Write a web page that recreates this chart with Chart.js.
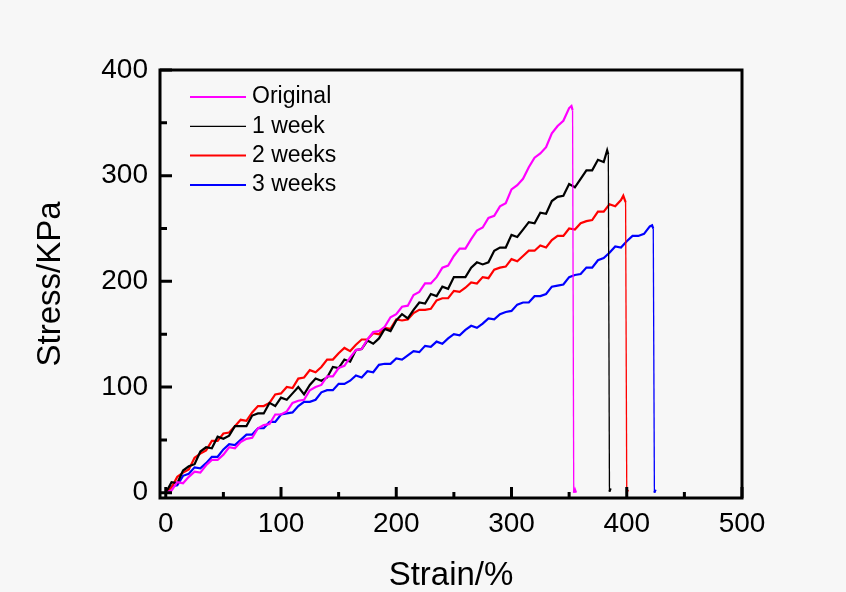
<!DOCTYPE html>
<html>
<head>
<meta charset="utf-8">
<script src="https://cdn.jsdelivr.net/npm/chart.js@4/dist/chart.umd.min.js"></script>
<style>
  html, body { margin: 0; padding: 0; background: #f7f7f7; }
  #wrap { width: 846px; height: 592px; }
</style>
</head>
<body>
<div id="wrap"><canvas id="chart"></canvas></div>
<script>
const seriesNames = ["Original", "1 week", "2 weeks", "3 weeks"];
const seriesColors = ["#ff00ff", "#000000", "#ff0000", "#0000ff"];

const xTicks = [0, 100, 200, 300, 400, 500];
const xMinorTicks = [50, 150, 250, 350, 450];
const yTicks = [0, 100, 200, 300, 400];
const yMinorTicks = [50, 150, 250, 350];

// Original
const originalStrain = [0,5,10,15,20,25,30,35,40,45,50,55,60,65,70,75,80,85,90,95,100,105,110,115,120,125,130,135,140,145,150,155,160,165,170,175,180,185,190,195,200,205,210,215,220,225,230,235,240,245,250,255,260,265,270,275,280,285,290,295,300,305,310,315,320,325,330,335,340,345,350,352,353,354,355,356];
const originalStress = [0,2,10,9,15,20,19,26,31,31,36,43,42,48,51,52,61,64,65,74,74,77,85,87,88,97,100,102,110,110,118,120,128,135,136,145,152,153,157,166,169,176,177,187,190,198,198,204,213,215,224,231,231,240,248,251,260,262,271,274,287,291,297,308,317,321,327,340,347,352,364,366,362,0,3,0];

// 1 week
const week1Strain = [0,5,10,15,20,25,30,35,40,45,50,55,60,65,70,75,80,85,90,95,100,105,110,115,120,125,130,135,140,145,150,155,160,165,170,175,180,185,190,195,200,205,210,215,220,225,230,235,240,245,250,255,260,265,270,275,280,285,290,295,300,305,310,315,320,325,330,335,340,345,350,355,360,365,370,375,380,383,384,385,386];
const week1Stress = [0,10,9,21,25,27,39,43,42,53,51,54,63,63,63,73,75,75,85,82,90,88,94,100,93,102,108,106,109,119,118,126,124,135,136,144,141,146,155,153,163,169,165,173,180,179,188,186,195,193,204,204,204,213,218,216,218,229,232,232,244,242,249,256,255,265,264,276,280,281,292,289,297,305,305,315,313,324,320,1,4];

// 2 weeks
const week2Strain = [0,5,10,15,20,25,30,35,40,45,50,55,60,65,70,75,80,85,90,95,100,105,110,115,120,125,130,135,140,145,150,155,160,165,170,175,180,185,190,195,200,205,210,215,220,225,230,235,240,245,250,255,260,265,270,275,280,285,290,295,300,305,310,315,320,325,330,335,340,345,350,355,360,365,370,375,380,385,390,395,397,399,400,401];
const week2Stress = [0,5,15,19,22,33,37,40,49,49,56,57,63,69,68,76,82,82,85,93,94,100,99,108,109,116,114,119,126,126,132,137,134,140,145,145,151,150,156,155,164,163,164,170,173,173,174,182,184,184,191,190,194,199,198,204,203,211,213,214,221,219,224,229,229,234,232,239,243,243,250,249,255,257,258,266,266,273,271,277,281,275,0,3];

// 3 weeks
const week3Strain = [0,5,10,15,20,25,30,35,40,45,50,55,60,65,70,75,80,85,90,95,100,105,110,115,120,125,130,135,140,145,150,155,160,165,170,175,180,185,190,195,200,205,210,215,220,225,230,235,240,245,250,255,260,265,270,275,280,285,290,295,300,305,310,315,320,325,330,335,340,345,350,355,360,365,370,375,380,385,390,395,400,405,410,415,420,422,423,424,425];
const week3Stress = [0,6,7,16,18,24,23,28,34,34,41,46,45,50,55,55,61,61,67,67,74,75,76,82,86,86,88,95,97,97,103,103,106,111,109,115,114,121,122,122,127,126,130,134,133,139,138,143,141,146,150,149,154,158,156,160,165,164,169,171,172,178,180,180,186,186,188,195,196,197,204,206,207,213,213,220,222,227,233,232,238,243,243,245,252,253,250,0,3];

const strains = [originalStrain, week1Strain, week2Strain, week3Strain];
const stresses = [originalStress, week1Stress, week2Stress, week3Stress];

const FONT = "'Liberation Sans', Arial, sans-serif";

const frameAndTicks = {
  id: "frameAndTicks",
  afterDatasetsDraw(chart) {
    const { ctx, chartArea: a, scales: { x, y } } = chart;
    ctx.save();
    ctx.strokeStyle = "#000";
    ctx.lineWidth = 3;
    ctx.strokeRect(a.left, a.top, a.right - a.left, a.bottom - a.top);
    ctx.beginPath();
    xTicks.forEach(v => { const p = x.getPixelForValue(v); ctx.moveTo(p, a.bottom); ctx.lineTo(p, a.bottom - 11); });
    xMinorTicks.forEach(v => { const p = x.getPixelForValue(v); ctx.moveTo(p, a.bottom); ctx.lineTo(p, a.bottom - 6); });
    yTicks.forEach(v => { const p = y.getPixelForValue(v); ctx.moveTo(a.left, p); ctx.lineTo(a.left + 12, p); });
    yMinorTicks.forEach(v => { const p = y.getPixelForValue(v); ctx.moveTo(a.left, p); ctx.lineTo(a.left + 7, p); });
    ctx.stroke();

    // legend inside the plot, upper left
    ctx.font = "23px " + FONT;
    ctx.textBaseline = "middle";
    ctx.textAlign = "left";
    seriesNames.forEach((name, i) => {
      const yy = a.top + 27 + i * 29.3;
      ctx.strokeStyle = seriesColors[i];
      ctx.lineWidth = i === 1 ? 1.2 : 2;
      ctx.beginPath();
      ctx.moveTo(a.left + 30, yy);
      ctx.lineTo(a.left + 86, yy);
      ctx.stroke();
      ctx.fillStyle = "#000";
      ctx.fillText(name, a.left + 92, yy);
    });
    ctx.restore();
  }
};

new Chart(document.getElementById("chart"), {
  type: "line",
  data: {
    datasets: seriesNames.map((name, i) => ({
      label: name,
      data: strains[i].map((s, j) => ({ x: s, y: stresses[i][j] })),
      borderColor: seriesColors[i],
      backgroundColor: seriesColors[i],
      borderWidth: 2.2,
      pointRadius: 0,
      tension: 0,
      fill: false,
      segment: {
        // the failure drop is a thin vertical line
        borderWidth: c => Math.abs(c.p1.parsed.y - c.p0.parsed.y) > 60 ? 1.3 : 2.2,
      },
    })),
  },
  options: {
    responsive: true,
    maintainAspectRatio: false,
    animation: false,
    layout: { padding: { top: 70, right: 104, left: 0, bottom: 0 } },
    plugins: { legend: { display: false }, tooltip: { enabled: false } },
    scales: {
      x: {
        type: "linear",
        min: -5,
        max: 500,
        afterBuildTicks: s => { s.ticks = xTicks.map(v => ({ value: v })); },
        afterFit: s => { s.height = 94; },
        grid: { display: false, drawTicks: false },
        border: { display: false },
        ticks: { color: "#000", font: { family: FONT, size: 28 }, padding: 9, maxRotation: 0 },
        title: { display: true, text: "Strain/%", color: "#000", font: { family: FONT, size: 33, lineHeight: 1 }, padding: { top: 0, bottom: 0 } },
      },
      y: {
        type: "linear",
        min: -5,
        max: 400,
        afterBuildTicks: s => { s.ticks = yTicks.map(v => ({ value: v })); },
        afterFit: s => { s.width = 160; },
        grid: { display: false, drawTicks: false },
        border: { display: false },
        ticks: { color: "#000", font: { family: FONT, size: 28 }, padding: 12 },
        title: { display: true, text: "Stress/KPa", color: "#000", font: { family: FONT, size: 33, lineHeight: 1 }, padding: { top: 34, bottom: 0 } },
      },
    },
  },
  plugins: [frameAndTicks],
});
</script>
</body>
</html>
